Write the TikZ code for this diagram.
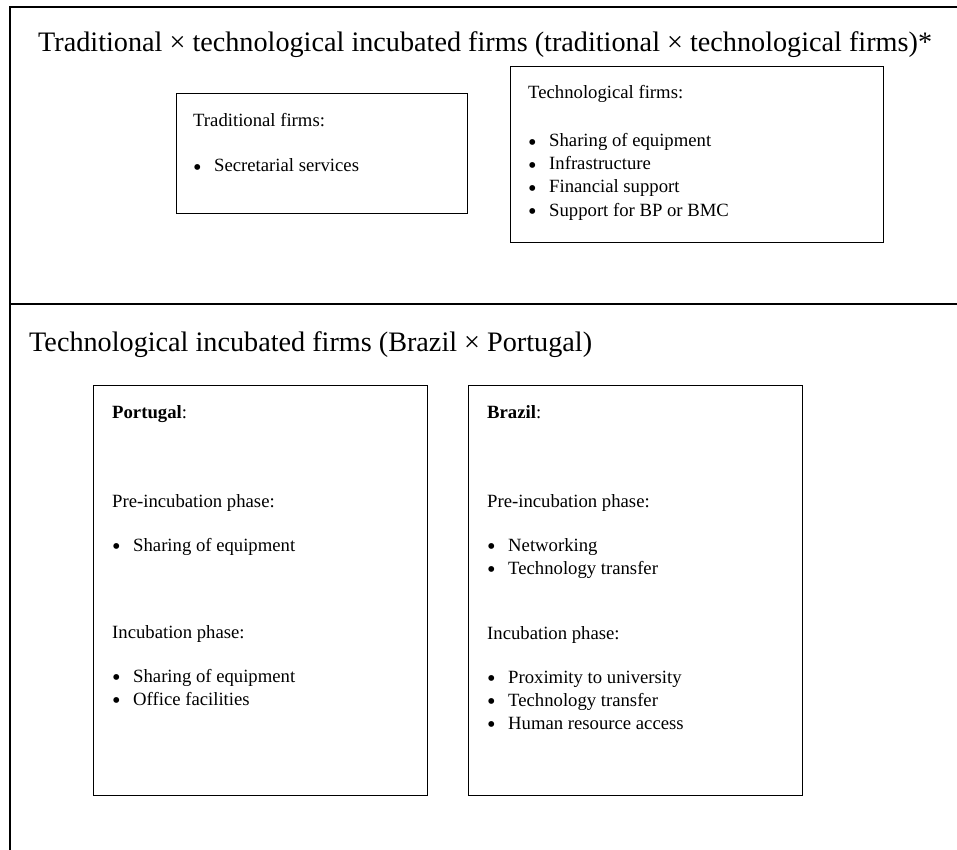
\documentclass[tikz,border=0pt]{standalone}
\usepackage{fontspec}
\setmainfont{Liberation Serif}
\newcommand{\bitem}[1]{\makebox[21pt][l]{\raisebox{-3.2pt}{\scalebox{1.3}{\textbullet}}}#1}
\begin{document}
\begin{tikzpicture}[x=1pt,y=-1pt,
	box/.style={draw, line width=1.4pt, anchor=north west, inner sep=0pt},
	txt/.style={anchor=base west, inner sep=0pt, font=\fontsize{18.7}{22}\selectfont},
	head/.style={anchor=base west, inner sep=0pt, font=\fontsize{28.2}{34}\selectfont}]
	\useasboundingbox (0,0) rectangle (957,850);
	\draw[line width=2pt] (957,7) -- (10,7) -- (10,850);
	\draw[line width=2pt] (10,304) -- (957,304);

	\node (trtitle) at (38,52)	[head]	{Traditional × technological incubated firms (traditional × technological firms)*};
	\node (tctitle) at (29,351)	[head]	{Technological incubated firms (Brazil × Portugal)};

	\node (trad) at (176,93)	[box, minimum width=291pt, minimum height=120pt]	{};
	\node (tradhead) at (193,127)	[txt]	{Traditional firms:};
	\node (tradA) at (193,172)	[txt]	{\bitem{Secretarial services}};

	\node (tech) at (510,66)	[box, minimum width=373pt, minimum height=176pt]	{};
	\node (techhead) at (528,99)	[txt]	{Technological firms:};
	\node (techA) at (528,147)	[txt]	{\bitem{Sharing of equipment}};
	\node (techB) at (528,170)	[txt]	{\bitem{Infrastructure}};
	\node (techC) at (528,193)	[txt]	{\bitem{Financial support}};
	\node (techD) at (528,216)	[txt]	{\bitem{Support for BP or BMC}};

	\node (port) at (93,385)	[box, minimum width=334pt, minimum height=410pt]	{};
	\node (porthead) at (112,418)	[txt]	{\textbf{Portugal}:};
	\node (portpre) at (112,507)	[txt]	{Pre-incubation phase:};
	\node (portA) at (112,551)	[txt]	{\bitem{Sharing of equipment}};
	\node (portinc) at (112,638)	[txt]	{Incubation phase:};
	\node (portB) at (112,682)	[txt]	{\bitem{Sharing of equipment}};
	\node (portC) at (112,705)	[txt]	{\bitem{Office facilities}};

	\node (braz) at (468,385)	[box, minimum width=334pt, minimum height=410pt]	{};
	\node (brazhead) at (487,418)	[txt]	{\textbf{Brazil}:};
	\node (brazpre) at (487,507)	[txt]	{Pre-incubation phase:};
	\node (brazA) at (487,551)	[txt]	{\bitem{Networking}};
	\node (brazB) at (487,574)	[txt]	{\bitem{Technology transfer}};
	\node (brazinc) at (487,639)	[txt]	{Incubation phase:};
	\node (brazC) at (487,683)	[txt]	{\bitem{Proximity to university}};
	\node (brazD) at (487,706)	[txt]	{\bitem{Technology transfer}};
	\node (brazE) at (487,729)	[txt]	{\bitem{Human resource access}};
\end{tikzpicture}
\end{document}
